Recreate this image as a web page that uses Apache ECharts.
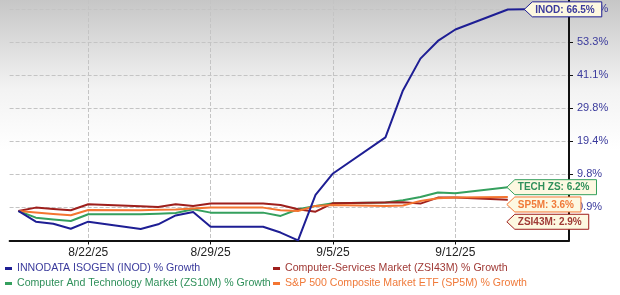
<!DOCTYPE html>
<html><head><meta charset="utf-8">
<script src="https://cdn.jsdelivr.net/npm/echarts@6/dist/echarts.min.js"></script>
<style>
html,body{margin:0;padding:0;background:#fff}
#c{width:620px;height:295px;background:linear-gradient(to bottom,#c6c6c6 0px,#f3f3f3 90px,#ffffff 150px);}
</style>
</head><body><div id="c"></div>
<script>
// ---------- data ----------
const days = ['8/18/25','8/19/25','8/20/25','8/21/25','8/22/25','8/23/25','8/24/25','8/25/25','8/26/25','8/27/25','8/28/25','8/29/25','8/30/25','8/31/25',
  '9/1/25','9/2/25','9/3/25','9/4/25','9/5/25','9/6/25','9/7/25','9/8/25','9/9/25','9/10/25','9/11/25','9/12/25','9/13/25','9/14/25','9/15/25','9/16/25','9/17/25','9/18/25'];
const tickDates = ['8/22/25','8/29/25','9/5/25','9/12/25'];
const yTickLabels = ['0.9%','9.8%','19.4%','29.8%','41.1%','53.3%','66.5%'];
const tradeDates = ['8/18/25','8/19/25','8/20/25','8/21/25','8/22/25','8/25/25','8/26/25','8/27/25','8/28/25','8/29/25','9/1/25',
  '9/2/25','9/3/25','9/4/25','9/5/25','9/8/25','9/9/25','9/10/25','9/11/25','9/12/25','9/15/25','9/16/25'];
const inod   = [0,-2.67,-3.17,-4.39,-2.67,-4.46,-3.31,-1.13,-0.25,-3.92,-3.92,-5.31,-7.16,4.15,9.94,20.46,35.63,46.99,53.71,58.22,66.46,66.5];
const zsi43m = [0,0.85,0.5,0.19,1.72,1.2,1.0,1.72,1.29,1.88,1.88,1.54,0.44,-0.17,1.98,2.14,2.2,1.88,3.44,3.44,2.9];
const sp5m   = [0,-0.4,-0.75,-1.08,0.26,0.2,0.3,0.35,0.6,0.85,0.85,0.19,0,1.29,1.54,1.29,1.4,2.58,3.28,3.44,3.6];
const zs10m  = [0,-1.68,-2.13,-2.5,-0.83,-0.83,-0.7,-0.5,0.44,-0.42,-0.42,-1.25,0.44,1.29,1.98,2.14,2.76,3.6,4.76,4.6,6.2];
const names = {
  inod:'INNODATA ISOGEN (INOD) % Growth',
  zsi43m:'Computer-Services Market (ZSI43M) % Growth',
  zs10m:'Computer And Technology Market (ZS10M) % Growth',
  sp5m:'S&P 500 Composite Market ETF (SP5M) % Growth'
};
const tagPrefix = {inod:'INOD', zs10m:'TECH ZS', sp5m:'SP5M', zsi43m:'ZSI43M'};

// ---------- log growth scale built from tick labels ----------
const tickVals = yTickLabels.map(s => parseFloat(s));
const L0 = Math.log(1 + tickVals[0]/100);
const D = (Math.log(1 + tickVals[5]/100) - L0) / 5;
const toT = g => (Math.log(1 + g/100) - L0) / D;

const FONT = 'Liberation Sans, Arial, sans-serif';
const colors = {inod:'#1e1e94', zsi43m:'#9e1f1c', zs10m:'#35a05e', sp5m:'#f47531'};
const textColors = {inod:'#3a3a9c', zsi43m:'#a03a36', zs10m:'#2f905a', sp5m:'#f07a3a'};
const seriesVals = {inod, zsi43m, zs10m, sp5m};

function lineSeries(key){
  const vals = seriesVals[key];
  return {
    name: names[key], type:'line', symbol:'none', animation:false,
    data: vals.map((v,i) => [tradeDates[i], toT(v)]),
    lineStyle:{color:colors[key], width:2, join:'round'},
    itemStyle:{color:colors[key]}, z:3
  };
}
function legendItem(key, left, top){
  return {left:left, top:top, orient:'horizontal', itemWidth:7, itemHeight:3, icon:'rect', selectedMode:false,
    padding:0, textStyle:{fontSize:10.6, fontFamily:FONT, color:textColors[key]},
    data:[{name:names[key], textStyle:{color:textColors[key]}}]};
}

const tagKeys = ['inod','zs10m','sp5m','zsi43m'];
const tags = tagKeys.map(k => {
  const vals = seriesVals[k];
  const v = vals[vals.length-1];
  return {key:k, date:tradeDates[vals.length-1], val:v, label: tagPrefix[k] + ': ' + v.toFixed(1) + '%'};
});
const mctx = document.createElement('canvas').getContext('2d');
mctx.font = 'bold 10px ' + FONT;

const chart = echarts.init(document.getElementById('c'), null, {renderer:'canvas'});
chart.setOption({
  animation:false,
  grid:{left:9.6, right:51, top:0, bottom:54.5, containLabel:false, outerBoundsMode:'none'},
  xAxis:{
    type:'category', data:days, boundaryGap:true,
    axisLine:{onZero:false, lineStyle:{color:'#111', width:2}},
    axisTick:{show:true, alignWithLabel:true, interval:(i,v)=>tickDates.includes(v), length:4, lineStyle:{color:'#111'}},
    axisLabel:{interval:(i,v)=>tickDates.includes(v), color:'#222', fontSize:12, fontFamily:FONT, margin:6},
    splitLine:{show:true, alignWithLabel:true, interval:(i,v)=>tickDates.includes(v), lineStyle:{type:'dashed', color:'#c4c4c4', width:1}}
  },
  yAxis:{
    type:'value', position:'right', min:-1, max:6.27, interval:1,
    axisLine:{show:true, lineStyle:{color:'#111', width:2}},
    axisTick:{show:true, length:4, lineStyle:{color:'#111'}},
    axisLabel:{
      formatter:(v)=>{const k=Math.round(v); return (Math.abs(v-k)<1e-6 && k>=0 && k<yTickLabels.length) ? yTickLabels[k] : '';},
      color:'#3a3a9c', fontSize:11, fontFamily:FONT, margin:8, showMaxLabel:false, showMinLabel:false
    },
    splitLine:{show:true, showMaxLine:false, showMinLine:false, lineStyle:{type:'dashed', color:'#c4c4c4', width:1}}
  },
  legend:[
    legendItem('inod', 5, 263),
    legendItem('zs10m', 5, 278),
    legendItem('zsi43m', 273, 263),
    legendItem('sp5m', 273, 278)
  ],
  series:[
    lineSeries('zs10m'), lineSeries('zsi43m'), lineSeries('sp5m'), lineSeries('inod'),
    {
      type:'custom', name:'tags', z:10, clip:false, silent:true,
      data: tags.map(t => [t.date, toT(t.val)]),
      encode:{x:0, y:1},
      renderItem:(params, api) => {
        const pts = tags.map(t => api.coord([t.date, toT(t.val)]));
        const ys = pts.map(p => p[1]);
        const order = tags.map((_,i)=>i).sort((a,b)=>ys[a]-ys[b]);
        let prev = -Infinity;
        order.forEach(i => { if (ys[i] < prev + 17.3) ys[i] = prev + 17.3; prev = ys[i]; });
        const i = params.dataIndex, t = tags[i];
        const x0 = pts[i][0] - 1, yc = ys[i], h = 7.5;
        const tw = mctx.measureText(t.label).width;
        const W = tw + 18;
        return {type:'group', children:[
          {type:'polygon', shape:{points:[[x0,yc],[x0+8,yc-h],[x0+W,yc-h],[x0+W,yc+h],[x0+8,yc+h]]},
           style:{fill:'#fdf8e1', stroke:colors[t.key], lineWidth:1}},
          {type:'text', style:{x:x0+11, y:yc+0.5, text:t.label, fill:textColors[t.key], font:'bold 10px ' + FONT, verticalAlign:'middle', align:'left'}}
        ]};
      }
    }
  ]
});
</script></body></html>
